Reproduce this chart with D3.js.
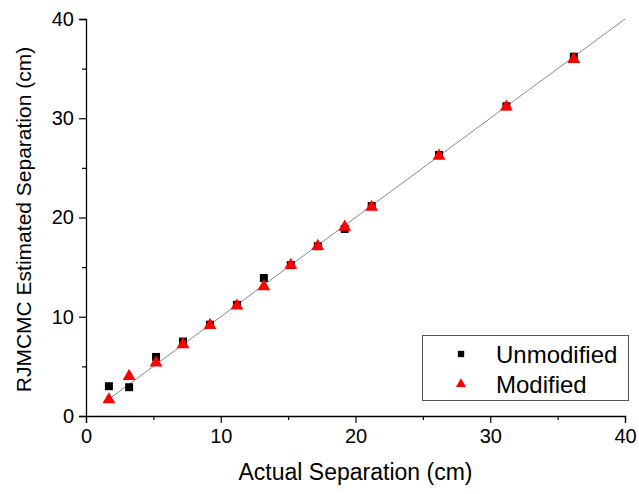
<!DOCTYPE html>
<html><head><meta charset="utf-8">
<script src="https://cdn.jsdelivr.net/npm/d3@7"></script>
<style>body{margin:0;background:#fff}svg{display:block}text{font-family:"Liberation Sans",Arial,sans-serif}</style>
</head><body><svg id="c" width="639" height="494"></svg>
<script>
const actual = [1.7, 3.2, 5.2, 7.2, 9.2, 11.2, 13.2, 15.2, 17.2, 19.2, 21.2, 26.2, 31.2, 36.2];
const unmodified = [3.0, 2.9, 5.95, 7.5, 9.2, 11.2, 13.9, 15.2, 17.1, 18.85, 21.15, 26.3, 31.2, 36.2];
const modified = [1.65, 4.0, 5.35, 7.2, 9.15, 11.1, 13.05, 15.2, 17.1, 19.05, 21.05, 26.2, 31.15, 35.95];
const fitLine = [[1.5, 1.5], [40, 40]];
const ticks = [0, 10, 20, 30, 40];
const minorTicks = [5, 15, 25, 35];
const seriesNames = ["Unmodified", "Modified"];
const seriesColors = ["#000000", "#ff0000"];

const svg = d3.select("#c");
const x = d3.scaleLinear().domain([0, 40]).range([86, 625]);
const y = d3.scaleLinear().domain([0, 40]).range([416, 19]);

// fit line
svg.append("line")
  .attr("x1", x(fitLine[0][0])).attr("y1", y(fitLine[0][1]))
  .attr("x2", x(fitLine[1][0])).attr("y2", y(fitLine[1][1]))
  .attr("stroke", "#8a8a8a").attr("stroke-width", 1);

// axes
svg.append("g").attr("transform", "translate(0,416)")
  .call(d3.axisBottom(x).tickValues(ticks).tickSize(7).tickPadding(6).tickFormat(d3.format("d")));
svg.append("g").attr("transform", "translate(0,416)")
  .call(d3.axisBottom(x).tickValues(minorTicks).tickSize(4).tickFormat(""))
  .select(".domain").remove();
svg.append("g").attr("transform", "translate(86,0)")
  .call(d3.axisLeft(y).tickValues(ticks).tickSize(7).tickPadding(5).tickFormat(d3.format("d")));
svg.append("g").attr("transform", "translate(86,0)")
  .call(d3.axisLeft(y).tickValues(minorTicks).tickSize(4).tickFormat(""))
  .select(".domain").remove();
svg.selectAll(".domain").attr("stroke", "#000").attr("stroke-width", 1.3);
svg.selectAll(".tick line").attr("stroke", "#000").attr("stroke-width", 1.2);
svg.selectAll(".tick text").attr("font-size", 20).attr("fill", "#000")
  .style("font-family", '"Liberation Sans", Arial, sans-serif');

// axis labels
svg.append("text").attr("x", (x(0) + x(40)) / 2).attr("y", 480)
  .attr("text-anchor", "middle").attr("font-size", 23).text("Actual Separation (cm)");
svg.append("text").attr("transform", `translate(31,${(y(0) + y(40)) / 2 + 2}) rotate(-90)`)
  .attr("text-anchor", "middle").attr("font-size", 21).text("RJMCMC Estimated Separation (cm)");

// markers
const sq = d3.symbol().type(d3.symbolSquare).size(64);
const tri = d3.symbol().type(d3.symbolTriangle).size(72);
svg.append("g").selectAll("path").data(actual.map((a, i) => [a, unmodified[i]])).join("path")
  .attr("d", sq).attr("transform", d => `translate(${x(d[0])},${y(d[1])})`).attr("fill", seriesColors[0]);
svg.append("g").selectAll("path").data(actual.map((a, i) => [a, modified[i]])).join("path")
  .attr("d", tri).attr("transform", d => `translate(${x(d[0])},${y(d[1])})`).attr("fill", seriesColors[1]);

// legend
const lg = svg.append("g");
lg.append("rect").attr("x", 422.5).attr("y", 335.5).attr("width", 206).attr("height", 65)
  .attr("fill", "#fff").attr("stroke", "#555").attr("stroke-width", 1);
const lsym = [d3.symbol().type(d3.symbolSquare).size(40), d3.symbol().type(d3.symbolTriangle).size(44)];
seriesNames.forEach((n, i) => {
  const cy = 354 + i * 30;
  lg.append("path").attr("d", lsym[i]).attr("transform", `translate(461,${cy})`).attr("fill", seriesColors[i]);
  lg.append("text").attr("x", 496).attr("y", cy + 8.5).attr("font-size", 24).text(n);
});
</script></body></html>
